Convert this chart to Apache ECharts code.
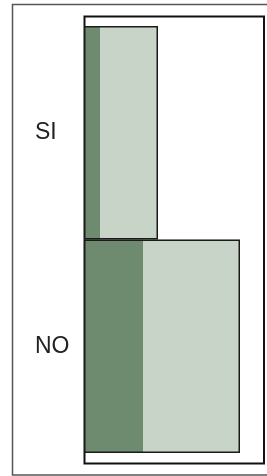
<!DOCTYPE html>
<html>
<head>
<meta charset="utf-8">
<script src="https://cdn.jsdelivr.net/npm/echarts@6/dist/echarts.min.js"></script>
<style>
  html, body { margin: 0; padding: 0; background: #fff; }
  #chart { width: 267px; height: 476px; }
</style>
</head>
<body>
<div id="chart"></div>
<script>
// categories top to bottom
const categories = ['SI', 'NO'];
// stacked segments (dark part first, then light part)
const darkValues = [16, 59];
const lightValues = [58, 97];
const axisMax = 180;

const COLORS = {
    dark: '#6f8b6f',
    light: '#c9d4c8',
    edge: '#1a1a1a',
    text: '#222'
};

const totals = darkValues.map((v, i) => v + lightValues[i]);

const chart = echarts.init(document.getElementById('chart'));

const option = {
    animation: false,
    grid: { left: 84, right: 3, top: 26, bottom: 23 },
    xAxis: {
        type: 'value',
        min: 0,
        max: axisMax,
        show: false
    },
    yAxis: {
        type: 'category',
        data: categories,
        inverse: true,
        axisLine: { show: false },
        axisTick: { show: false },
        splitLine: { show: false },
        axisLabel: {
            margin: 49,
            align: 'left',
            fontSize: 23,
            fontFamily: 'Liberation Sans, Arial, sans-serif',
            color: COLORS.text
        }
    },
    // frames around the whole figure and the plot area
    graphic: [
        {
            type: 'rect',
            shape: { x: 12.5, y: 4.5, width: 262, height: 470.5 },
            style: { fill: 'none', stroke: '#555', lineWidth: 1.5 }
        },
        {
            type: 'rect',
            shape: { x: 84.5, y: 16.5, width: 179.5, height: 447 },
            style: { fill: 'none', stroke: '#111', lineWidth: 2 }
        }
    ],
    series: [
        {
            name: 'dark',
            type: 'bar',
            stack: 'total',
            data: darkValues,
            barCategoryGap: 0,
            itemStyle: { color: COLORS.dark }
        },
        {
            name: 'light',
            type: 'bar',
            stack: 'total',
            data: lightValues,
            barCategoryGap: 0,
            itemStyle: { color: COLORS.light }
        },
        {
            // outline only, drawn over the stacked bar
            name: 'outline',
            type: 'bar',
            data: totals,
            barGap: '-100%',
            barCategoryGap: 0,
            z: 5,
            itemStyle: { color: 'transparent', borderColor: COLORS.edge, borderWidth: 1.5 }
        }
    ]
};

chart.setOption(option);
</script>
</body>
</html>
